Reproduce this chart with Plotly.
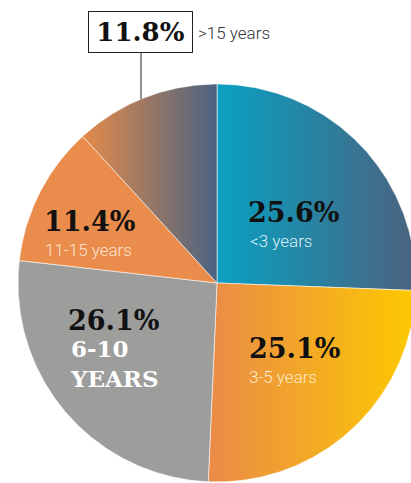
import numpy as np
import plotly.graph_objects as go

# Share of respondents by tenure, clockwise from 12 o'clock
groups = ["<3 years", "3-5 years", "6-10 years", "11-15 years", ">15 years"]
shares = [25.6, 25.1, 26.1, 11.4, 11.8]
pct_labels = ["25.6%", "25.1%", "26.1%", "11.4%", "11.8%"]

W, H = 411, 483
CX, CY, R = 217, 283, 199

# fill for each slice: a horizontal colorscale or a flat colour
fills = [
    [[0, "#0aa0c2"], [1, "#4a637f"]],
    [[0, "#ea8b48"], [1, "#fdc900"]],
    "#9d9d9c",
    "#ea8c4b",
    [[0, "#e48b4a"], [1, "#4b6381"]],
]

fig = go.Figure()

cum = np.concatenate([[0], np.cumsum(shares)])
total = cum[-1]
for i, g in enumerate(groups):
    a0 = cum[i] / total * 2 * np.pi
    a1 = cum[i + 1] / total * 2 * np.pi
    t = np.linspace(a0, a1, 240)
    xs = np.concatenate([[CX], CX + R * np.sin(t), [CX]])
    ys = np.concatenate([[CY], CY - R * np.cos(t), [CY]])
    kw = dict(x=xs, y=ys, mode="lines", fill="toself",
              line=dict(color="rgba(255,255,255,0.7)", width=0.8),
              hoverinfo="skip", showlegend=False, name=g)
    f = fills[i]
    if isinstance(f, str):
        kw["fillcolor"] = f
    else:
        kw["fillgradient"] = dict(type="horizontal", colorscale=f,
                                  start=float(xs.min()), stop=float(xs.max()))
    fig.add_trace(go.Scatter(**kw))

serif = "DejaVu Serif"
sans = "Roboto"

def big(text, x, y, color="#111111", size=27):
    fig.add_annotation(x=x, y=y, text=f"<b>{text}</b>", showarrow=False,
                       xanchor="left", yanchor="middle", align="left",
                       font=dict(family=serif, size=size, color=color))

def small(text, x, y, color):
    fig.add_annotation(x=x, y=y, text=text, showarrow=False,
                       xanchor="left", yanchor="middle",
                       font=dict(family=sans, size=17, color=color, weight=300))

big(pct_labels[0], 246, 212)
small(groups[0], 248, 241, "#dcf0f6")
big(pct_labels[1], 247, 348)
small(groups[1], 247, 377, "#fde9c9")
big(pct_labels[2], 66, 320)
big("6-10<br>YEARS", 68, 363, color="#ffffff", size=23)
big(pct_labels[3], 42, 221)
small(groups[3], 43, 250, "#fbe4d3")

# boxed callout for the top-left slice with a leader down to the rim
lx = 141
ly = CY - np.sqrt(R ** 2 - (lx - CX) ** 2)
fig.add_shape(type="line", x0=lx, x1=lx, y0=53, y1=ly,
              line=dict(color="#222222", width=1))
fig.add_annotation(x=140.5, y=32, text=f"<b>{pct_labels[4]}</b>", showarrow=False,
                   xanchor="center", yanchor="middle",
                   width=101, height=38, bgcolor="#ffffff",
                   bordercolor="#222222", borderwidth=1, borderpad=1,
                   font=dict(family=serif, size=26, color="#111111"))
fig.add_annotation(x=196, y=33, text=groups[4], showarrow=False,
                   xanchor="left", yanchor="middle",
                   font=dict(family=sans, size=17, color="#333333", weight=300))

fig.update_xaxes(range=[0, W], visible=False, fixedrange=True)
fig.update_yaxes(range=[H, 0], visible=False, fixedrange=True)
fig.update_layout(width=W, height=H, margin=dict(l=0, r=0, t=0, b=0),
                  paper_bgcolor="#ffffff", plot_bgcolor="#ffffff")

fig.write_html("out.html")
